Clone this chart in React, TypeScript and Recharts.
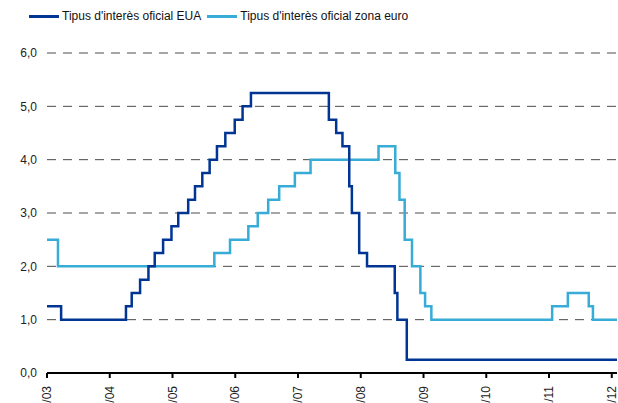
import React from 'react';
import { LineChart, Line, XAxis, YAxis, CartesianGrid } from 'recharts';

// x values are months counted from the first tick (1/03)
const fedMonths = [0, 2.7, 15.1, 16.2, 17.8, 19.4, 20.6, 22.2, 23.8, 25.1, 27.0, 28.3, 29.7, 31.1, 32.5, 34.1, 35.9, 37.4, 39.0, 53.9, 55.3, 56.5, 57.8, 58.3, 59.7, 61.2, 66.5, 67.0, 68.8, 109];
const fedRates = [1.25, 1.0, 1.25, 1.5, 1.75, 2.0, 2.25, 2.5, 2.75, 3.0, 3.25, 3.5, 3.75, 4.0, 4.25, 4.5, 4.75, 5.0, 5.25, 4.75, 4.5, 4.25, 3.5, 3.0, 2.25, 2.0, 1.5, 1.0, 0.25, 0.25];

const ecbMonths = [0, 2.1, 32.0, 35.0, 38.5, 40.3, 42.3, 44.4, 47.4, 50.4, 63.4, 66.6, 67.4, 68.4, 69.8, 71.4, 72.3, 73.5, 96.6, 99.6, 103.6, 104.4, 109];
const ecbRates = [2.5, 2.0, 2.25, 2.5, 2.75, 3.0, 3.25, 3.5, 3.75, 4.0, 4.25, 3.75, 3.25, 2.5, 2.0, 1.5, 1.25, 1.0, 1.25, 1.5, 1.25, 1.0, 1.0];

const tickMonths = [0, 12, 24, 36, 48, 60, 72, 84, 96, 108];
const tickLabels = ['1/03', '1/04', '1/05', '1/06', '1/07', '1/08', '1/09', '1/10', '1/11', '1/12'];
const yTicks = [0, 1, 2, 3, 4, 5, 6];

const seriesNames = ["Tipus d'interès oficial EUA", "Tipus d'interès oficial zona euro"];
const FED_COLOR = '#003594';
const ECB_COLOR = '#36acd6';
const FONT = '"Liberation Sans", Arial, sans-serif';

const fedData = fedMonths.map((m, i) => ({ m, rate: fedRates[i] }));
const ecbData = ecbMonths.map((m, i) => ({ m, rate: ecbRates[i] }));

const XTick = ({ x, y, payload }: any) => {
  const label = tickLabels[tickMonths.indexOf(payload.value)] ?? '';
  const bx = x + 4;
  const by = y + 6;
  return (
    <text x={bx} y={by} transform={`rotate(-90, ${bx}, ${by})`} textAnchor="end" fontSize={12} fill="#222" fontFamily={FONT}>
      {label}
    </text>
  );
};

export default function App() {
  return (
    <div style={{ position: 'absolute', left: 0, top: 0, width: 618, height: 403, overflow: 'hidden', background: '#fff', fontFamily: FONT }}>
      {/* legend */}
      <div style={{ position: 'absolute', left: 29, top: 9, display: 'flex', alignItems: 'center', fontSize: 12, color: '#111', whiteSpace: 'nowrap' }}>
        <span style={{ display: 'inline-block', width: 30, height: 3, background: FED_COLOR, marginRight: 3 }} />
        <span style={{ marginRight: 6 }}>{seriesNames[0]}</span>
        <span style={{ display: 'inline-block', width: 30, height: 3, background: ECB_COLOR, marginRight: 3 }} />
        <span>{seriesNames[1]}</span>
      </div>
      <LineChart width={618} height={430} margin={{ top: 53, right: 1, bottom: 0, left: 0 }}>
        <CartesianGrid vertical={false} stroke="#4a4a4a" strokeDasharray="9 7" />
        <XAxis
          type="number"
          dataKey="m"
          domain={[0, 109]}
          ticks={tickMonths}
          interval={0}
          allowDuplicatedCategory={false}
          height={57}
          axisLine={{ stroke: '#000', strokeWidth: 2 }}
          tickLine={{ stroke: '#000', strokeWidth: 2 }}
          tickSize={5}
          tickMargin={2}
          tick={<XTick />}
        />
        <YAxis
          type="number"
          domain={[0, 6]}
          ticks={yTicks}
          width={47}
          axisLine={false}
          tickLine={false}
          tickMargin={4}
          tickFormatter={(v: number) => v.toFixed(1).replace('.', ',')}
          tick={{ fontSize: 12, fill: '#222', fontFamily: FONT }}
        />
        <Line data={ecbData} dataKey="rate" type="stepAfter" stroke={ECB_COLOR} strokeWidth={2.5} dot={false} isAnimationActive={false} />
        <Line data={fedData} dataKey="rate" type="stepAfter" stroke={FED_COLOR} strokeWidth={2.5} dot={false} isAnimationActive={false} />
      </LineChart>
    </div>
  );
}
